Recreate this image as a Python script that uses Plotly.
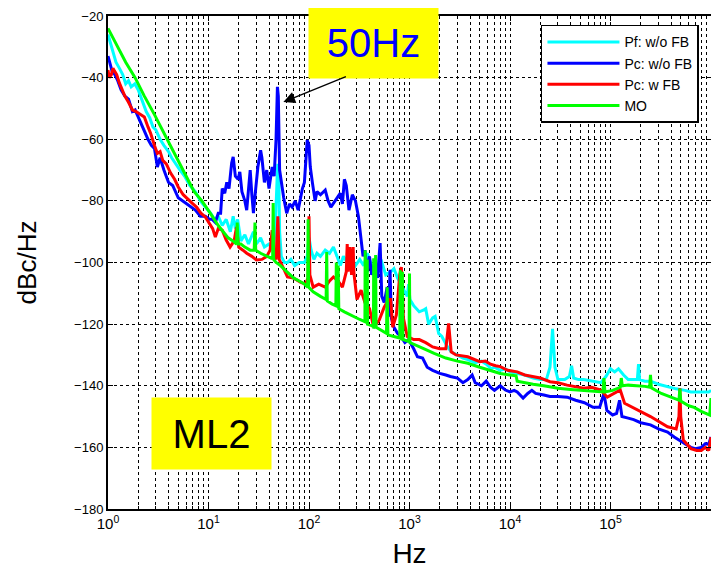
import math
import plotly.graph_objects as go

# ---------------- data ----------------
series_names = ["Pf: w/o FB", "Pc: w/o FB", "Pc: w FB", "MO"]

cyan_f = [1.0, 1.1, 1.2, 1.3, 1.4, 1.5, 1.6, 1.7, 1.85, 2.0, 2.2, 2.4, 2.6, 2.8, 3.0, 3.3, 3.6, 4.0, 4.3, 4.7,
          5.2, 5.8, 6.5, 7.4, 8.3, 9.3, 10.5, 11.5, 12.5, 13.7, 15, 16.5, 17.6, 18.5, 19.5, 21, 23, 25, 28, 30,
          33, 36, 40, 44, 46, 48.5, 49, 50, 51, 53, 57, 61, 66, 72, 80, 90, 96, 100, 105, 112, 120, 130, 145,
          160, 175, 190, 205, 220, 240, 260, 290, 320, 350, 380, 420, 470, 520, 580, 650, 700, 760, 850, 950,
          980, 1010, 1100, 1250, 1370, 1450, 1550, 1700, 1800, 1950, 2100, 2350, 2600, 3000, 3400, 3800, 4500,
          5200, 5800, 6500, 7000, 8000, 9000, 10000, 12000, 14000, 17000, 20000, 23000, 25000, 26500, 28000,
          30000, 35000, 39000, 41000, 43000, 48000, 54000, 65000, 80000, 90000, 100000, 110000, 120000, 135000,
          150000, 170000, 185000, 190000, 195000, 220000, 250000, 300000, 370000, 450000, 550000, 630000,
          750000, 850000, 950000, 1000000]
cyan_db = [-26, -31, -35, -37, -39, -42, -41, -43, -42, -44, -48, -51, -53, -56, -57, -60, -62, -64, -66, -68,
           -70, -72, -75, -77, -80, -82, -84, -86, -85, -88, -86, -90, -85, -89, -86, -93, -91, -94, -90, -94,
           -92, -95, -94, -96, -90, -70, -68, -70, -90, -98, -100, -100, -99, -101, -100, -100, -98, -92, -96,
           -99, -97, -98, -96, -97, -95, -98, -101, -98, -100, -98, -101, -99, -101, -97, -101, -102, -99, -104,
           -103, -102, -105, -108, -111, -107, -112, -114, -116, -115.5, -115, -120, -118, -117.5, -123, -124,
           -127, -129, -130, -131, -131.5, -132.5, -132, -133, -134.5, -134, -135, -134.5, -135.5, -136,
           -136.5, -137.5, -138, -138, -134, -121.5, -134, -138, -138, -137, -133.5, -137.5, -138, -138,
           -138.5, -139, -137, -134.5, -135.5, -134.5, -136.5, -138, -138, -138, -133, -138, -138.5, -138.5,
           -139.5, -140.3, -141, -141.5, -142, -142, -142, -142, -141.5]

blue_f = [1.0, 1.05, 1.1, 1.17, 1.25, 1.35, 1.47, 1.6, 1.75, 1.86, 2.0, 2.2, 2.35, 2.5, 2.7, 2.9, 3.1, 3.3,
          3.6, 4.0, 4.4, 5.0, 5.5, 6.0, 6.6, 7.4, 8.3, 9.3, 10.3, 10.9, 11.7, 12.5, 13.2, 13.7, 14.5, 15.2, 16,
          17, 17.6, 18.5, 19.7, 20.5, 21.5, 23, 24, 25, 26, 27, 28, 29.5, 31, 33, 34, 36, 38, 40, 43, 45, 47,
          48.5, 49.5, 51, 53, 56, 60, 64, 68, 73, 78, 82, 86, 90, 93, 96, 100, 103, 108, 115, 120, 130, 145,
          155, 165, 175, 190, 205, 215, 225, 235, 250, 270, 290, 310, 320, 330, 345, 360, 380, 400, 420, 450,
          480, 510, 530, 560, 600, 620, 640, 660, 700, 760, 820, 900, 980, 1100, 1200, 1350, 1500, 1700, 2000,
          2300, 2550, 3000, 3400, 3800, 4200, 4500, 5200, 5800, 6400, 7000, 8000, 9000, 10000, 11000, 11800,
          13500, 15000, 16500, 18000, 21700, 25000, 30000, 37000, 45000, 55000, 67000, 78000, 86000, 92000,
          105000, 115000, 123000, 130000, 150000, 170000, 200000, 250000, 300000, 370000, 430000, 500000,
          550000, 630000, 700000, 800000, 880000, 950000, 1000000]
blue_db = [-33, -36, -38, -39, -41, -44, -46, -47, -51, -50.5, -53, -56, -58, -60, -62, -63, -69, -66, -70,
           -74, -75, -79, -80, -81, -82, -83, -85, -85, -86, -86, -87, -84, -84, -76, -77.5, -74, -76, -67.7,
           -65.7, -72, -73, -70.6, -77, -80, -83, -75, -70, -78, -84, -76, -69, -63.6, -66, -74, -70, -76, -69,
           -72, -60, -43, -46, -70, -74, -79, -84, -81, -82, -80, -83, -78.7, -76, -74, -68, -60.3, -62, -69,
           -74, -80, -77, -78, -76.5, -80, -82, -80.8, -79, -77.5, -81, -73, -75, -83, -78, -80, -85, -89.5,
           -93, -98, -96, -103, -98, -104, -100, -105, -93.7, -111, -113, -108, -117.6, -102.4, -118, -121,
           -123, -124, -126, -125, -128, -130.6, -131, -134, -135, -136, -136.5, -137, -137.5, -139, -138,
           -136.5, -139, -140, -138.5, -140.5, -141.5, -140, -141.4, -142, -141.5, -142, -144, -142.5,
           -141.5, -142.5, -143, -143.5, -143.5, -143.7, -144.7, -145.5, -147, -147, -142.5, -148, -149.5,
           -149, -144.7, -150, -150.5, -151, -152, -152.7, -154, -155, -156.6, -158, -159, -160, -160.4, -160,
           -158.8, -159, -156.6]

red_f = [1.0, 1.03, 1.08, 1.12, 1.17, 1.22, 1.3, 1.38, 1.47, 1.6, 1.75, 1.9, 2.1, 2.3, 2.5, 2.65, 2.9, 3.1,
         3.3, 3.5, 3.8, 4.2, 4.6, 5.0, 5.6, 6.3, 7.0, 7.6, 8.4, 9.3, 10.2, 11.0, 11.7, 12.5, 13.7, 15.0, 16.4,
         18, 19, 20, 22, 24, 27, 30, 34, 38, 41, 43, 44.5, 47, 49, 50.5, 55, 61, 70, 82, 92, 98, 100, 102, 110,
         125, 145, 160, 175, 195, 215, 235, 240, 245, 255, 265, 275, 280, 300, 330, 360, 400, 440, 500, 560,
         620, 650, 680, 740, 800, 830, 870, 950, 1100, 1250, 1450, 1700, 2000, 2300, 2450, 2600, 2900, 3800,
         4400, 5000, 5700, 6400, 7200, 8000, 9500, 11800, 14000, 17000, 20000, 25000, 30000, 37000, 45000,
         54000, 65000, 80000, 93000, 110000, 125000, 138000, 170000, 250000, 370000, 450000, 480000, 490000,
         500000, 530000, 630000, 720000, 800000, 880000, 950000, 1000000]
red_db = [-37.5, -40, -39, -37, -38, -39, -41.8, -44, -46, -48, -50.5, -51, -52, -52.8, -56, -58, -62, -64.6,
          -64, -66.8, -68, -71, -73, -75.5, -78, -79.7, -81, -82, -84, -85.2, -87.3, -89, -91.7, -89, -89.5,
          -92.7, -95, -93, -88.5, -95, -96, -97, -98, -99.2, -99, -98, -96, -89.5, -98, -99, -85, -99, -101.5,
          -104.7, -105, -106.4, -107, -105, -85, -104, -108, -107, -108, -106, -104.7, -106, -108, -103, -94,
          -103, -95, -104, -95, -103.5, -112, -109, -113, -115, -121, -118.7, -114.5, -112, -112, -121, -117,
          -104, -101.5, -118, -124, -125, -125, -126, -127.4, -128, -128, -119.8, -129, -130, -130.6, -131.5,
          -132.2, -132, -133, -133.5, -133.8, -135, -135.5, -136.5, -137, -137.5, -138.7, -139, -139.8,
          -140.2, -140.8, -140.5, -141.4, -143.7, -142.5, -141.4, -145.7, -147.3, -150, -153.3, -154, -150,
          -140.8, -150, -157.6, -160.4, -161, -161, -160, -161, -156.7]

green_f = [1.0, 1.2, 1.5, 1.86, 2.3, 2.9, 3.85, 4.8, 6.0, 7.2, 8.6, 10.4, 12.5, 14, 15.7, 17.5, 19, 19.3,
           19.7, 21, 23, 26, 28.5, 29, 29.5, 33, 38, 42, 43.5, 44, 44.5, 47, 52, 60, 70, 80, 90, 97, 98, 99,
           110, 130, 148, 150, 152, 170, 185, 187, 189, 192, 195, 198, 225, 256, 290, 320, 350, 360, 362, 378,
           380, 382, 420, 438, 440, 442, 455, 460, 465, 520, 550, 590, 600, 610, 700, 800, 810, 820, 840, 850,
           860, 950, 990, 1000, 1010, 1200, 1400, 1760, 2300, 3000, 3800, 5000, 6400, 8000, 10000, 11500,
           11800, 14000, 17000, 21700, 30000, 40000, 54000, 70000, 84000, 86000, 88000, 105000, 125000, 128000,
           131000, 150000, 187000, 220000, 245000, 250000, 255000, 320000, 400000, 480000, 490000, 500000,
           600000, 680000, 800000, 940000, 970000, 990000, 1000000]
green_db = [-24, -29, -35, -40, -46, -52, -60, -66, -72, -77, -80, -84, -88, -90, -92, -93, -94, -87, -94, -94,
            -95, -96, -96, -87, -96, -97, -98, -98.6, -98, -80.7, -99, -100, -101, -103, -105, -106, -107, -108,
            -86, -108, -109.5, -111, -112, -96.6, -112.5, -113.5, -114, -100, -114.2, -114.5, -101, -115, -116,
            -117, -118, -118.5, -119, -119.2, -96, -119.5, -99, -120, -120.5, -120.8, -98.6, -121, -121, -97.6,
            -121, -122, -122.5, -123, -108, -123.5, -124, -124.5, -102.5, -124.6, -125, -103, -125, -125.5,
            -125, -103.6, -126, -127, -128, -129.5, -131, -132, -132.7, -134, -135, -136, -136.5, -136.8,
            -138.5, -139, -139.5, -140, -140.8, -141.2, -141.5, -141.8, -142, -137.5, -142, -141.5, -140.5,
            -137.5, -140, -139.8, -140, -140.2, -140.5, -136.5, -140.7, -142.5, -143.7, -144.7, -141, -145,
            -146.5, -147, -148.3, -149.5, -149.5, -146, -144]

x_tick_vals = [1, 10, 100, 1000, 10000, 100000, 1000000]
x_tick_text = ["10<sup>0</sup>", "10<sup>1</sup>", "10<sup>2</sup>", "10<sup>3</sup>",
               "10<sup>4</sup>", "10<sup>5</sup>", "10<sup>6</sup>"]
y_tick_vals = [-180, -160, -140, -120, -100, -80, -60, -40, -20]

peak_label = "50Hz"
peak_freq = 55.6
peak_db = -47.9
box_label = "ML2"

# ---------------- figure ----------------
FONT = "Liberation Sans, Arial, sans-serif"
colors = ["#00FFFF", "#0000FF", "#FF0000", "#00FF00"]
xs = [cyan_f, blue_f, red_f, green_f]
ys = [cyan_db, blue_db, red_db, green_db]

fig = go.Figure()
for name, c, x, y in zip(series_names, colors, xs, ys):
    fig.add_trace(go.Scatter(x=x, y=y, mode="lines", name=name,
                             line=dict(color=c, width=3)))

grid = dict(showgrid=True, gridcolor="black", griddash="dot", gridwidth=1)

fig.update_xaxes(type="log", range=[0, 6], tickvals=x_tick_vals, ticktext=x_tick_text,
                 automargin=False,
                 ticks="inside", ticklen=5, tickcolor="black", showline=True, linecolor="black",
                 linewidth=2, mirror="allticks", zeroline=False,
                 tickfont=dict(size=15, color="black", family=FONT),
                 title=dict(text="Hz", font=dict(size=28, color="black", family=FONT), standoff=12),
                 minor=dict(dtick="D1", ticks="inside", ticklen=3, tickcolor="black",
                            showgrid=True, gridcolor="black", griddash="dot", gridwidth=1),
                 **grid)
fig.update_yaxes(range=[-180, -20], tickvals=y_tick_vals, automargin=False,
                 ticks="inside", ticklen=5, tickcolor="black", showline=True, linecolor="black",
                 linewidth=2, mirror="allticks", zeroline=False,
                 tickfont=dict(size=13, color="black", family=FONT),
                 title=dict(text="dBc/Hz", font=dict(size=26, color="black", family=FONT), standoff=30),
                 **grid)

fig.add_annotation(xref="paper", yref="paper", x=0.4395, y=0.945, xanchor="center", yanchor="middle",
                   text=peak_label, showarrow=False,
                   font=dict(size=40, color="#0000FF", family=FONT), bgcolor="#FFFF00",
                   width=127, height=68, align="center", valign="middle")
fig.add_annotation(x=math.log10(peak_freq), y=peak_db, ax=64, ay=-26, text="", showarrow=True,
                   arrowhead=2, arrowsize=1.8, arrowwidth=1.3, arrowcolor="black")
fig.add_annotation(xref="paper", yref="paper", x=0.1716, y=0.153, xanchor="center", yanchor="middle",
                   text=box_label, showarrow=False,
                   font=dict(size=40, color="black", family=FONT), bgcolor="#FFFF00",
                   width=117, height=69, align="center", valign="middle")

# the page body has an 8 px margin, so the figure is 8 px smaller and margins are shifted
fig.update_layout(
    width=711, height=563,
    margin=dict(l=100, r=8, t=8, b=62, autoexpand=False),
    paper_bgcolor="white", plot_bgcolor="white",
    font=dict(family=FONT, color="black"),
    showlegend=True,
    legend=dict(x=0.718, y=0.982, xanchor="left", yanchor="top",
                bgcolor="white", bordercolor="black", borderwidth=1.5,
                font=dict(size=14, color="black", family=FONT),
                tracegroupgap=0, itemwidth=72),
)

fig.write_html("out.html")
